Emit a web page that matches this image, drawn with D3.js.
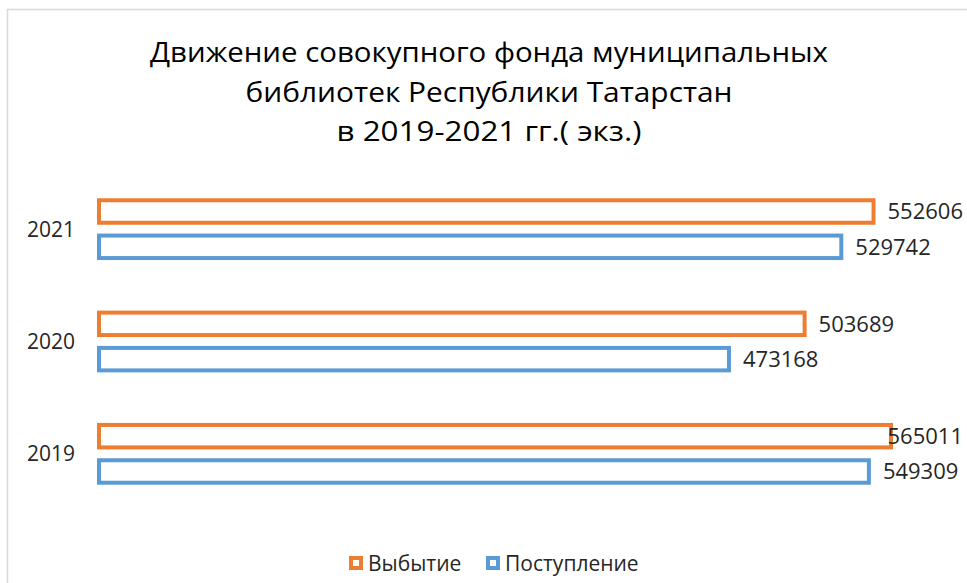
<!DOCTYPE html>
<html lang="ru">
<head>
<meta charset="utf-8">
<title>Движение совокупного фонда</title>
<script src="https://d3js.org/d3.v7.min.js"></script>
<style>
  body { margin: 0; background: #fff; }
  text { font-family: "Open Sans", sans-serif; fill: #262626; }
</style>
</head>
<body>
<div id="chart"></div>
<script>
// data
var years = ["2021", "2020", "2019"];
var seriesNames = ["Выбытие", "Поступление"];
var vybytie = [552606, 503689, 565011];
var postuplenie = [529742, 473168, 549309];
// the 2020 "Поступление" bar in the source is drawn shorter than its label says
var postuplenieBar = [529742, 450000, 549309];
var colors = ["#ED7D31", "#5B9BD5"];
var titleLines = ["Движение совокупного фонда муниципальных",
                  "библиотек Республики Татарстан",
                  "в 2019-2021 гг.( экз.)"];

var width = 967, height = 583;

var svg = d3.select("#chart").append("svg")
    .attr("width", width)
    .attr("height", height);

// chart frame
svg.append("rect")
    .attr("x", 7.5).attr("y", 9.5)
    .attr("width", width + 10).attr("height", height + 10)
    .attr("fill", "none")
    .attr("stroke", "#d9d9d9")
    .attr("stroke-width", 1.5);

// title (stretched a bit to the width of the original font)
var titleWidths = [678, 487, 305];
svg.append("g").selectAll("text")
  .data(titleLines)
  .enter().append("text")
    .attr("x", 489)
    .attr("y", function(d, i) { return 62 + i * 39.5; })
    .attr("text-anchor", "middle")
    .attr("textLength", function(d, i) { return titleWidths[i]; })
    .attr("lengthAdjust", "spacingAndGlyphs")
    .style("font-size", "27px")
    .style("fill", "#000")
    .text(function(d) { return d; });

var x = d3.scaleLinear()
    .domain([0, 565011])
    .range([97, 893]);

var y = d3.scaleBand()
    .domain(years)
    .range([173, 510])
    .paddingInner(0.45)
    .paddingOuter(0.225);

var ySub = d3.scaleBand()
    .domain([0, 1])
    .range([0, y.bandwidth()])
    .paddingInner(0.25)
    .paddingOuter(0);

var rows = years.map(function(yr, i) {
  return [
    {year: yr, s: 0, bar: vybytie[i], label: vybytie[i]},
    {year: yr, s: 1, bar: postuplenieBar[i], label: postuplenie[i]}
  ];
});

var sw = 4;
var groups = svg.append("g").selectAll("g")
  .data(rows)
  .enter().append("g")
    .attr("transform", function(d) { return "translate(0," + y(d[0].year) + ")"; });

groups.selectAll("rect")
  .data(function(d) { return d; })
  .enter().append("rect")
    .attr("x", x(0) + sw / 2)
    .attr("y", function(d) { return ySub(d.s) + sw / 2; })
    .attr("width", function(d) { return x(d.bar) - x(0) - sw; })
    .attr("height", ySub.bandwidth() - sw)
    .attr("fill", "none")
    .attr("stroke", function(d) { return colors[d.s]; })
    .attr("stroke-width", sw);

groups.selectAll("text.val")
  .data(function(d) { return d; })
  .enter().append("text")
    .attr("class", "val")
    .attr("y", function(d) { return ySub(d.s) + ySub.bandwidth() / 2; })
    .attr("dy", "0.36em")
    .style("font-size", "22px")
    .text(function(d) { return d.label; })
    .attr("x", function(d) {
      var w = this.getComputedTextLength();
      return Math.min(x(d.bar) + 12, 963 - w);
    });

// category labels
svg.append("g").selectAll("text")
  .data(years)
  .enter().append("text")
    .attr("x", 75)
    .attr("y", function(d) { return y(d) + y.bandwidth() / 2; })
    .attr("dy", "0.36em")
    .attr("text-anchor", "end")
    .style("font-size", "21px")
    .text(function(d) { return d; });

// legend
var legendX = [349, 486];
var legend = svg.append("g").selectAll("g")
  .data(seriesNames)
  .enter().append("g")
    .attr("transform", function(d, i) { return "translate(" + legendX[i] + ",563)"; });

legend.append("rect")
    .attr("x", 2).attr("y", -5)
    .attr("width", 10).attr("height", 10)
    .attr("fill", "#fff")
    .attr("stroke", function(d, i) { return colors[i]; })
    .attr("stroke-width", 4);

legend.append("text")
    .attr("x", 19)
    .attr("dy", "0.36em")
    .style("font-size", "21px")
    .text(function(d) { return d; });
</script>
</body>
</html>
